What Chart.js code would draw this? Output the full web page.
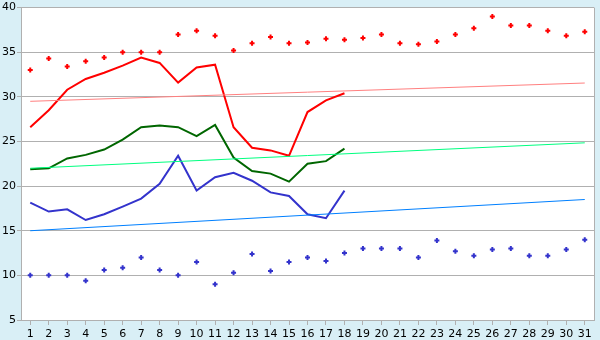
<!DOCTYPE html>
<html>
<head>
<meta charset="utf-8">
<script src="https://cdn.jsdelivr.net/npm/chart.js@4/dist/chart.umd.min.js"></script>
<style>
  html, body { margin: 0; padding: 0; background: #d9eff6; }
  #wrap { width: 600px; height: 340px; position: relative; }
</style>
</head>
<body>
<div id="wrap"><canvas id="c" width="600" height="340"></canvas></div>
<script>
const days = ['1','2','3','4','5','6','7','8','9','10','11','12','13','14','15','16','17','18','19','20','21','22','23','24','25','26','27','28','29','30','31'];
const yTicks = [5, 10, 15, 20, 25, 30, 35, 40];

const recordHigh = [33, 34.3, 33.4, 34, 34.4, 35, 35, 35, 37, 37.4, 36.85, 35.2, 36, 36.7, 36, 36.1, 36.5, 36.4, 36.6, 37, 36, 35.9, 36.2, 37, 37.7, 39, 38, 38, 37.4, 36.85, 37.3];
const dailyMax = [26.6, 28.5, 30.8, 32, 32.7, 33.5, 34.4, 33.8, 31.6, 33.3, 33.6, 26.6, 24.3, 24, 23.4, 28.3, 29.6, 30.4];
const dailyMean = [21.9, 22, 23.1, 23.5, 24.1, 25.2, 26.6, 26.8, 26.6, 25.6, 26.85, 23.2, 21.7, 21.4, 20.5, 22.5, 22.8, 24.2];
const dailyMin = [18.15, 17.15, 17.4, 16.2, 16.85, 17.7, 18.6, 20.25, 23.4, 19.5, 21, 21.5, 20.6, 19.3, 18.9, 16.85, 16.4, 19.5];
const recordLow = [10, 10, 10, 9.4, 10.6, 10.85, 12, 10.6, 10, 11.5, 9, 10.3, 12.4, 10.5, 11.5, 12, 11.6, 12.5, 13, 13, 13, 12, 13.9, 12.7, 12.2, 12.9, 13, 12.2, 12.2, 12.9, 14];
const normalMaxEnds = [29.5, 31.55];
const normalMeanEnds = [22.0, 24.85];
const normalMinEnds = [15.0, 18.5];

const first = days[0], last = days[days.length - 1];
function ends(v) { return [{x: first, y: v[0]}, {x: last, y: v[1]}]; }

const bgPlugin = {
  id: 'bg',
  beforeDraw(chart) {
    const {ctx, chartArea: a} = chart;
    ctx.save();
    ctx.fillStyle = '#d9eff6';
    ctx.fillRect(0, 0, chart.width, chart.height);
    ctx.fillStyle = '#ffffff';
    ctx.fillRect(a.left, a.top, a.right - a.left, a.bottom - a.top);
    ctx.restore();
  },
  afterDraw(chart) {
    const {ctx, chartArea: a} = chart;
    ctx.save();
    ctx.strokeStyle = '#b0b0b0';
    ctx.lineWidth = 1;
    ctx.beginPath();
    ctx.moveTo(Math.round(a.right) + 0.5, a.top);
    ctx.lineTo(Math.round(a.right) + 0.5, a.bottom);
    ctx.stroke();
    ctx.restore();
  }
};

const lineBase = { type: 'line', pointRadius: 0, tension: 0, fill: false };
const pointBase = { type: 'line', showLine: false, pointStyle: 'cross', pointRadius: 2.5, pointBorderWidth: 2 };

new Chart(document.getElementById('c'), {
  data: {
    labels: days,
    datasets: [
      Object.assign({}, lineBase, { data: ends(normalMaxEnds), borderColor: '#ff8080', borderWidth: 1 }),
      Object.assign({}, lineBase, { data: ends(normalMeanEnds), borderColor: '#00ff80', borderWidth: 1 }),
      Object.assign({}, lineBase, { data: ends(normalMinEnds), borderColor: '#0080ff', borderWidth: 1 }),
      Object.assign({}, lineBase, { data: dailyMax, borderColor: '#ff0000', borderWidth: 2 }),
      Object.assign({}, lineBase, { data: dailyMean, borderColor: '#006600', borderWidth: 2 }),
      Object.assign({}, lineBase, { data: dailyMin, borderColor: '#3333cc', borderWidth: 2 }),
      Object.assign({}, pointBase, { data: recordHigh, borderColor: '#ff0000', backgroundColor: '#ff0000' }),
      Object.assign({}, pointBase, { data: recordLow, borderColor: '#3333cc', backgroundColor: '#3333cc' })
    ]
  },
  options: {
    responsive: false,
    animation: false,
    events: [],
    layout: { padding: { top: 5, right: 5, left: 0, bottom: 0 } },
    plugins: { legend: { display: false }, tooltip: { enabled: false } },
    scales: {
      x: {
        type: 'category',
        offset: true,
        grid: { display: true, drawOnChartArea: false, drawTicks: true, offset: false, tickLength: 5, color: '#b0b0b0' },
        border: { display: true, color: '#b0b0b0' },
        ticks: { color: '#000', font: { family: 'DejaVu Sans', size: 11 }, padding: 3, maxRotation: 0, autoSkip: false },
        afterFit(s) { s.height = 20; }
      },
      y: {
        min: 5, max: 40,
        afterBuildTicks(s) { s.ticks = yTicks.map(v => ({ value: v })); },
        grid: { color: '#b0b0b0', drawTicks: true, tickLength: 4 },
        border: { display: true, color: '#b0b0b0' },
        ticks: { color: '#000', font: { family: 'DejaVu Sans', size: 11 }, padding: 1 },
        afterFit(s) { s.width = 21; }
      }
    }
  },
  plugins: [bgPlugin]
});
</script>
</body>
</html>
